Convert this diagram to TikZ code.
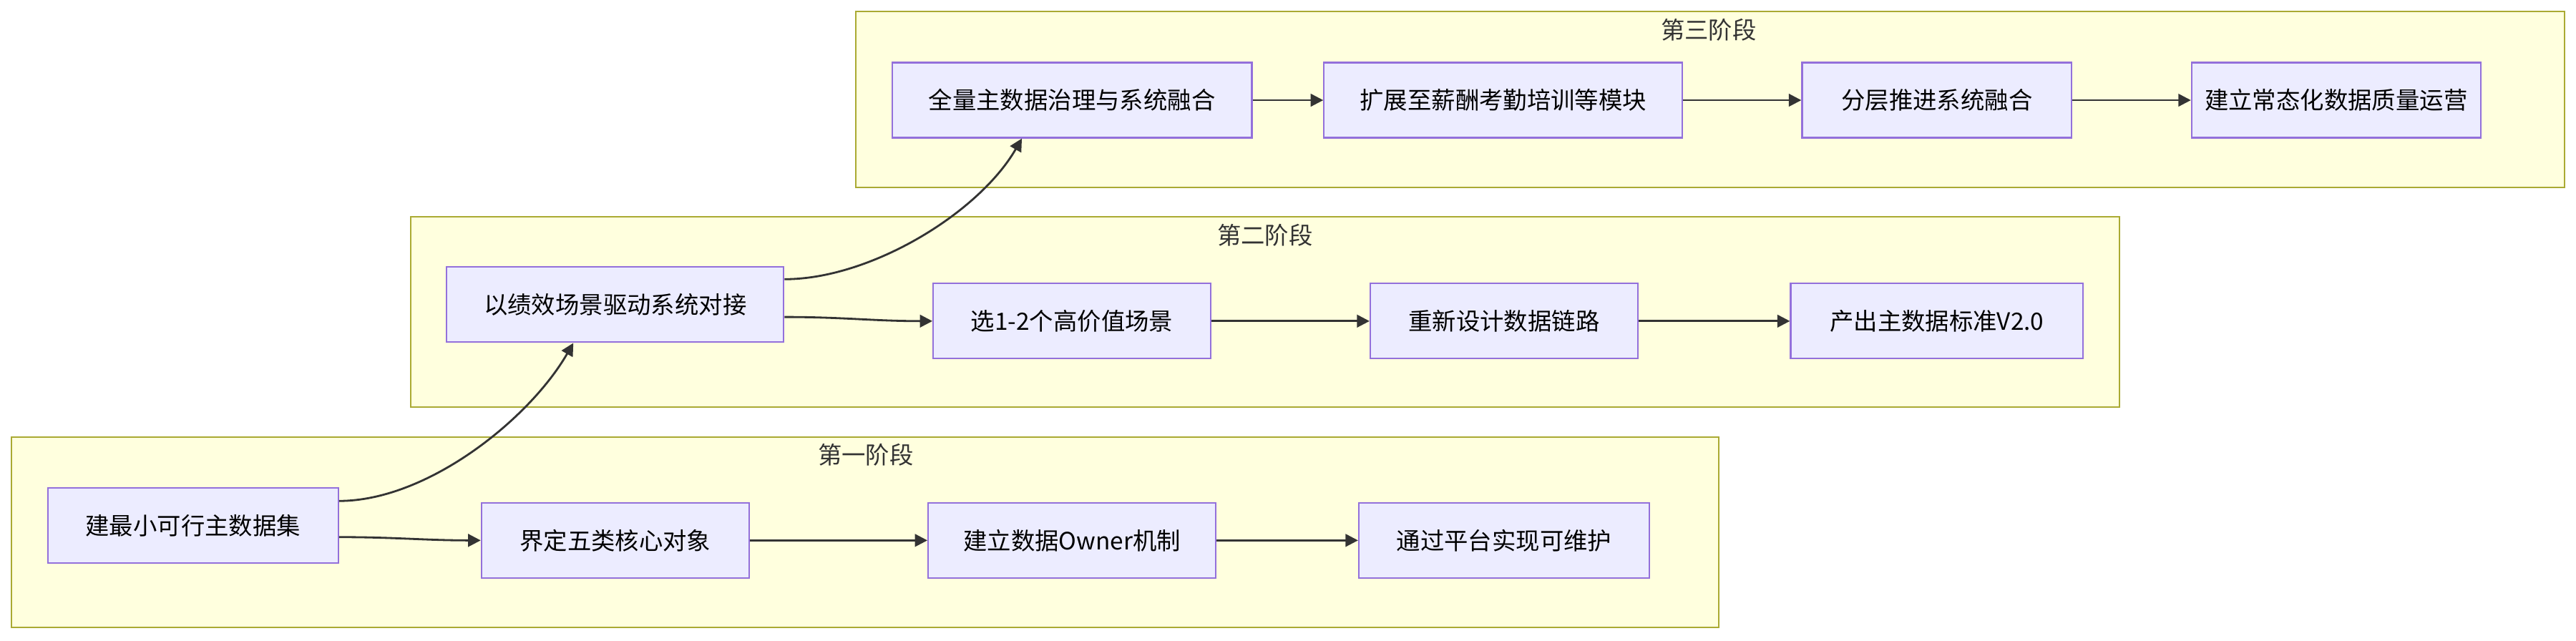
\documentclass[tikz,border=0pt]{standalone}
\usepackage{fontspec}
\setmainfont{Noto Sans CJK SC}
\usetikzlibrary{arrows.meta}
\definecolor{nodefill}{HTML}{ECECFF}
\definecolor{nodeline}{HTML}{9370DB}
\definecolor{stagefill}{HTML}{FFFFDE}
\definecolor{stageline}{HTML}{AAAA33}
\definecolor{edgecol}{HTML}{333333}
\begin{document}
\begin{tikzpicture}
[x=0.02296cm, y=-0.02296cm,
>={Triangle[length=5pt,width=5pt]},
stage/.style={draw=stageline, fill=stagefill, line width=0.6pt},
task/.style={draw=nodeline, fill=nodefill, line width=0.6pt, font=\fontsize{9.5}{12}\selectfont,
  minimum height=1.05cm, inner sep=0pt},
title/.style={font=\fontsize{9.5}{12}\selectfont, text=edgecol},
link/.style={->, draw=edgecol, line width=0.8pt}]
  \useasboundingbox (0,0) rectangle (1568,390.2);
  % stages
  \draw [stage] (521,7) rectangle (1561,114);
  \node [title] (t3) at (1040,18) {第三阶段};
  \draw [stage] (250,132) rectangle (1290,248);
  \node [title] (t2) at (770,143) {第二阶段};
  \draw [stage] (7,266) rectangle (1046,382);
  \node [title] (t1) at (527,277) {第一阶段};
  % third stage
  \node [task, minimum width=5.03cm] (c1) at (652.5,61) {全量主数据治理与系统融合};
  \node [task, minimum width=5.01cm] (c2) at (915,61) {扩展至薪酬考勤培训等模块};
  \node [task, minimum width=3.77cm] (c3) at (1179,61) {分层推进系统融合};
  \node [task, minimum width=4.04cm] (c4) at (1422,61) {建立常态化数据质量运营};
  % second stage
  \node [task, minimum width=4.71cm] (b1) at (374.5,185.5) {以绩效场景驱动系统对接};
  \node [task, minimum width=3.88cm] (b2) at (652.5,195.5) {选1-2个高价值场景};
  \node [task, minimum width=3.74cm] (b3) at (915.5,195.5) {重新设计数据链路};
  \node [task, minimum width=4.09cm] (b4) at (1179,195.5) {产出主数据标准V2.0};
  % first stage
  \node [task, minimum width=4.06cm] (a1) at (117.5,320) {建最小可行主数据集};
  \node [task, minimum width=3.74cm] (a2) at (374.5,329) {界定五类核心对象};
  \node [task, minimum width=4.02cm] (a3) at (652.5,329) {建立数据Owner机制};
  \node [task, minimum width=4.06cm] (a4) at (915.5,329) {通过平台实现可维护};
  % links
  \draw [link] (a1.east |- 0,327) to[out=0,in=180] (a2);
  \draw [link] (a2) -- (a3);
  \draw [link] (a3) -- (a4);
  \draw [link] (a1.east |- 0,305) to[out=0,in=-120,looseness=0.8] (b1.south -| 349,0);
  \draw [link] (b1.east |- 0,193) to[out=0,in=180] (b2);
  \draw [link] (b2) -- (b3);
  \draw [link] (b3) -- (b4);
  \draw [link] (b1.east |- 0,170) to[out=0,in=-120,looseness=0.8] (c1.south -| 622,0);
  \draw [link] (c1) -- (c2);
  \draw [link] (c2) -- (c3);
  \draw [link] (c3) -- (c4);
\end{tikzpicture}
\end{document}
